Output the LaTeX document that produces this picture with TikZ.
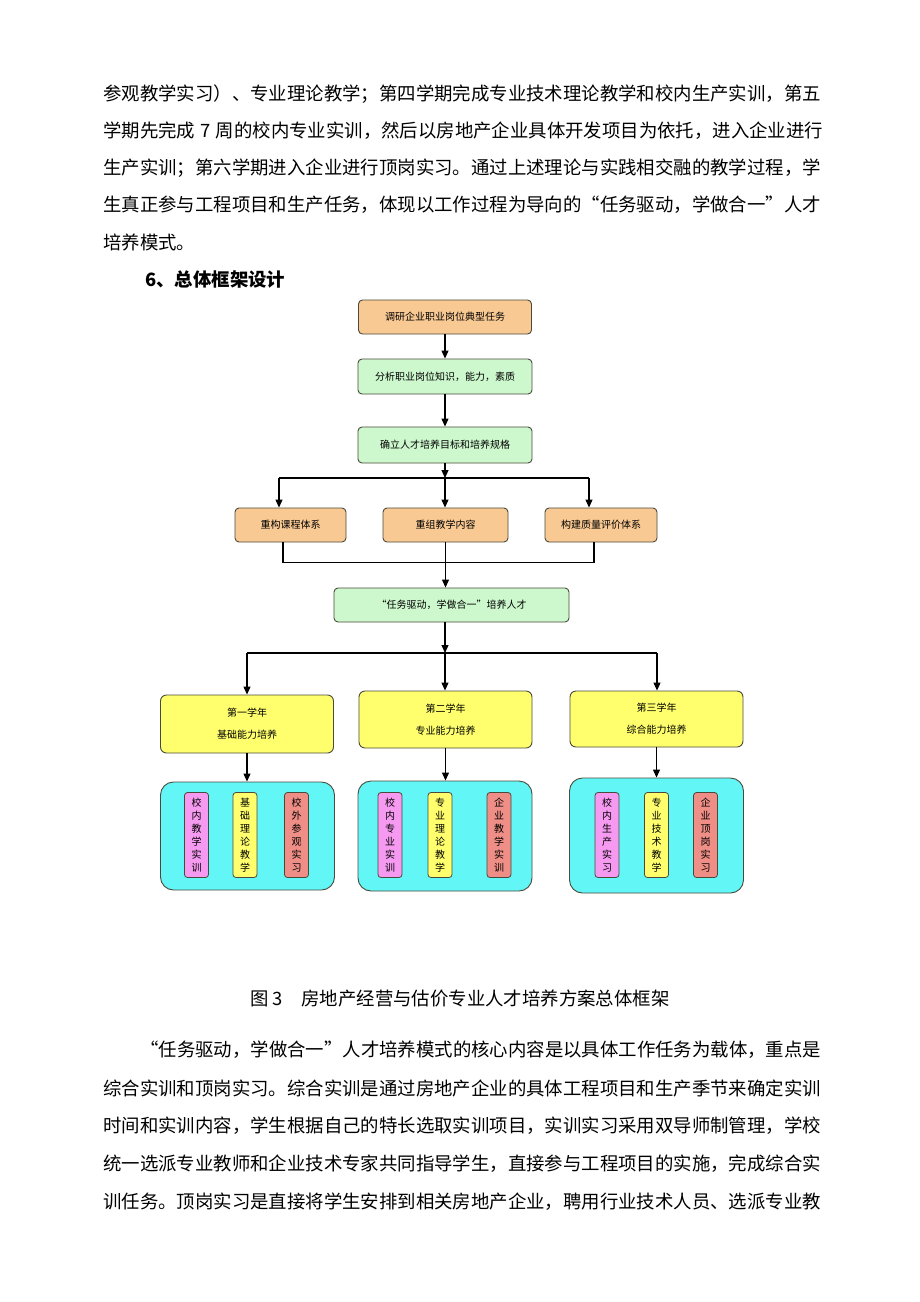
\documentclass[tikz,border=0pt]{standalone}
\usepackage{fontspec}
\newfontfamily\cjk{Noto Sans CJK SC}
\usetikzlibrary{arrows.meta}
\XeTeXlinebreaklocale "zh"
\XeTeXlinebreakskip = 0pt plus 4pt
\definecolor{peach}{HTML}{F9C993}
\definecolor{mint}{HTML}{CDF8CD}
\definecolor{lemon}{HTML}{FFFF6E}
\definecolor{aqua}{HTML}{62F6F6}
\definecolor{orchid}{HTML}{F59AF0}
\definecolor{salmon}{HTML}{EE8E86}
\definecolor{rim}{HTML}{4A4A3C}

\begin{document}
\begin{tikzpicture}[x=1pt,y=-1pt,
  body/.style={anchor=west, inner sep=0pt, font=\cjk\fontsize{18.4}{22}\selectfont},
  box/.style={draw=rim, line width=0.9pt, rounded corners=4pt, inner sep=0pt,
    align=center, font=\cjk\fontsize{10}{12}\selectfont},
  peachbox/.style={box, fill=peach},
  mintbox/.style={box, fill=mint},
  yearbox/.style={box, fill=lemon, rounded corners=6pt, minimum width=173pt},
  pool/.style={draw=rim, line width=0.9pt, fill=aqua, rounded corners=13pt,
    minimum width=174pt},
  bar/.style={draw=rim, line width=0.8pt, rounded corners=3pt, inner sep=0pt,
    minimum width=24pt, minimum height=85pt, align=center,
    font=\cjk\fontsize{10}{13}\selectfont},
  arr/.style={-{Triangle[width=7pt,length=8pt]}, line width=1.1pt},
  ln/.style={line width=1.1pt}]
\useasboundingbox[fill=white] (0,0) rectangle (920,1302);

% Text above the figure
\node[body] (p1) at (103,94) {\makebox[720pt][s]{参观教学实习）、专业理论教学；第四学期完成专业技术理论教学和校内生产实训，第五}};
\node[body] (p2) at (103,131) {\makebox[720pt][s]{学期先完成 7 周的校内专业实训，然后以房地产企业具体开发项目为依托，进入企业进行}};
\node[body] (p3) at (103,168) {\makebox[720pt][s]{生产实训；第六学期进入企业进行顶岗实习。通过上述理论与实践相交融的教学过程，学}};
\node[body] (p4) at (103,205) {\makebox[720pt][s]{生真正参与工程项目和生产任务，体现以工作过程为导向的“任务驱动，学做合一”人才}};
\node[body] (p5) at (103,242) {培养模式。};
\node[body, font=\cjk\bfseries\fontsize{18.4}{22}\selectfont] (head) at (145,280) {6、总体框架设计};

% Top chain
\node[peachbox, minimum width=173pt, minimum height=34pt] (task) at (445,317) {调研企业职业岗位典型任务};
\node[mintbox, minimum width=174pt, minimum height=35pt] (skill) at (445,376.5) {分析职业岗位知识，能力，素质};
\node[mintbox, minimum width=174pt, minimum height=36pt] (goal) at (445,445) {确立人才培养目标和培养规格};
\draw[arr] (task) -- (skill);
\draw[arr] (skill) -- (goal);

% First split
\coordinate (sp1) at (445,478);
\coordinate (sp1l) at (279,478);
\coordinate (sp1r) at (589,478);
\node[peachbox, minimum width=111pt, minimum height=34pt] (course) at (290.5,525) {重构课程体系};
\node[peachbox, minimum width=125pt, minimum height=34pt] (content) at (445.5,525) {重组教学内容};
\node[peachbox, minimum width=112pt, minimum height=34pt] (quality) at (601,525) {构建质量评价体系};
\draw[arr] (goal) -- (sp1);
\draw[ln] (sp1l) -- (sp1r);
\draw[arr] (sp1l) -- (sp1l |- course.north);
\draw[arr] (sp1) -- (sp1 |- content.north);
\draw[arr] (sp1r) -- (sp1r |- quality.north);

% Merge
\node[mintbox, minimum width=235pt, minimum height=34pt] (drive) at (451.5,605) {“任务驱动，学做合一”培养人才};
\draw[ln] ([xshift=-7.5pt]course.south) -- ++(0,20) -| ([xshift=-7pt]quality.south);
\draw[arr] (content) -- (content |- drive.north);

% Second split
\coordinate (sp2) at (445,653);
\coordinate (sp2l) at (247,653);
\coordinate (sp2r) at (657,653);
\node[yearbox, minimum height=58pt] (yr1) at (247,724) {第一学年\\[10pt]基础能力培养};
\node[yearbox, minimum height=57pt] (yr2) at (445.5,719.5) {第二学年\\[10pt]专业能力培养};
\node[yearbox, minimum height=56pt] (yr3) at (656.5,719) {第三学年\\[10pt]综合能力培养};
\draw[arr] (sp2 |- drive.south) -- (sp2);
\draw[ln] (sp2l) -- (sp2r);
\draw[arr] (sp2l) -- (sp2l |- yr1.north);
\draw[arr] (sp2) -- (sp2 |- yr2.north);
\draw[arr] (sp2r) -- (sp2r |- yr3.north);

% Practice groups
\node[pool, minimum height=108pt] (k1) at (247.5,836) {};
\node[pool, minimum height=110pt] (k2) at (445,836) {};
\node[pool, minimum height=115pt] (k3) at (656.5,835.5) {};
\draw[arr] (yr1) -- (yr1 |- k1.north);
\draw[arr] (yr2) -- (yr2 |- k2.north);
\draw[arr] (yr3) -- (yr3 |- k3.north);

\node[bar, fill=orchid] (a1) at (196.5,835) {校\\内\\教\\学\\实\\训};
\node[bar, fill=lemon] (a2) at (245,835) {基\\础\\理\\论\\教\\学};
\node[bar, fill=salmon] (a3) at (296.5,835) {校\\外\\参\\观\\实\\习};
\node[bar, fill=orchid] (b1) at (390,835) {校\\内\\专\\业\\实\\训};
\node[bar, fill=lemon] (b2) at (440,835) {专\\业\\理\\论\\教\\学};
\node[bar, fill=salmon] (b3) at (499,835) {企\\业\\教\\学\\实\\训};
\node[bar, fill=orchid] (c1) at (607,835) {校\\内\\生\\产\\实\\习};
\node[bar, fill=lemon] (c2) at (656.5,835) {专\\业\\技\\术\\教\\学};
\node[bar, fill=salmon] (c3) at (705.5,835) {企\\业\\顶\\岗\\实\\习};

% Caption
\node[body, anchor=center] (cap) at (460,998) {图 3\quad 房地产经营与估价专业人才培养方案总体框架};

% Text below the figure
\node[body] (q1) at (140,1050) {\makebox[683pt][s]{“任务驱动，学做合一”人才培养模式的核心内容是以具体工作任务为载体，重点是}};
\node[body] (q2) at (103,1088) {\makebox[720pt][s]{综合实训和顶岗实习。综合实训是通过房地产企业的具体工程项目和生产季节来确定实训}};
\node[body] (q3) at (103,1126) {\makebox[720pt][s]{时间和实训内容，学生根据自己的特长选取实训项目，实训实习采用双导师制管理，学校}};
\node[body] (q4) at (103,1164) {\makebox[720pt][s]{统一选派专业教师和企业技术专家共同指导学生，直接参与工程项目的实施，完成综合实}};
\node[body] (q5) at (103,1202) {\makebox[720pt][s]{训任务。顶岗实习是直接将学生安排到相关房地产企业，聘用行业技术人员、选派专业教}};
\end{tikzpicture}
\end{document}
